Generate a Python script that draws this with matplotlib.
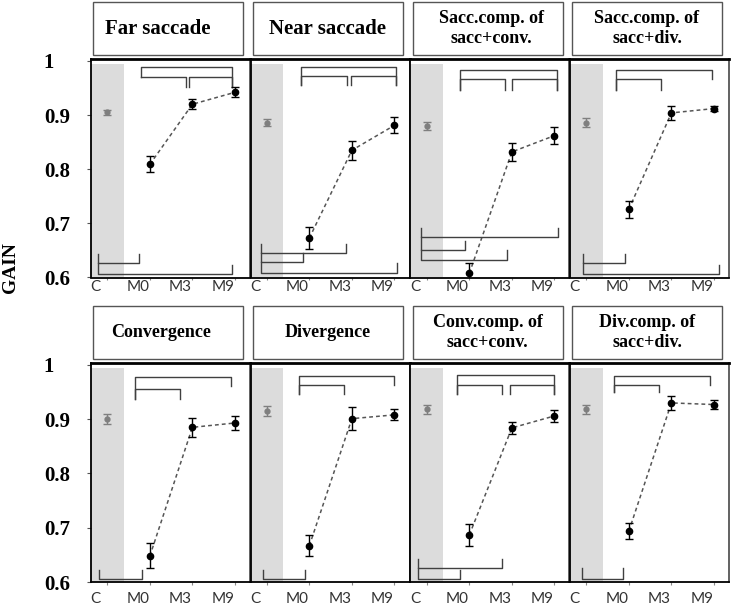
import matplotlib.pyplot as plt
from matplotlib.patches import Rectangle

titles = ["Far saccade", "Near saccade", "Sacc.comp. of\nsacc+conv.", "Sacc.comp. of\nsacc+div.",
          "Convergence", "Divergence", "Conv.comp. of\nsacc+conv.", "Div.comp. of\nsacc+div."]
title_sizes = [15, 15, 13, 13, 13, 13, 13, 13]
groups = ["C", "M0", "M3", "M9"]

# mean gain per group (C, M0, M3, M9) for each panel
gain = [
    [0.905, 0.809, 0.920, 0.942],
    [0.886, 0.673, 0.835, 0.881],
    [0.880, 0.608, 0.832, 0.862],
    [0.886, 0.726, 0.904, 0.912],
    [0.901, 0.648, 0.885, 0.893],
    [0.915, 0.667, 0.901, 0.908],
    [0.918, 0.687, 0.884, 0.906],
    [0.918, 0.694, 0.930, 0.927],
]
sem = [
    [0.004, 0.015, 0.009, 0.009],
    [0.007, 0.021, 0.018, 0.015],
    [0.008, 0.018, 0.016, 0.016],
    [0.008, 0.016, 0.013, 0.004],
    [0.009, 0.023, 0.018, 0.012],
    [0.010, 0.019, 0.021, 0.010],
    [0.009, 0.020, 0.011, 0.011],
    [0.008, 0.015, 0.013, 0.008],
]

# significance brackets: (x_left, x_right, y_bar, y_left_end, y_right_end)
brackets = [
    [(0.78, 2.93, 0.989, 0.970, 0.952), (0.78, 1.84, 0.970, 0.970, 0.952), (1.91, 2.93, 0.970, 0.952, 0.952),
     (-0.21, 0.74, 0.626, 0.643, 0.643), (-0.21, 2.93, 0.606, 0.626, 0.623)],
    [(0.81, 3.03, 0.989, 0.955, 0.955), (0.81, 1.88, 0.972, 0.955, 0.955), (1.98, 3.03, 0.972, 0.955, 0.955),
     (-0.13, 1.85, 0.645, 0.662, 0.662), (-0.13, 0.85, 0.628, 0.645, 0.645), (-0.13, 3.05, 0.609, 0.628, 0.626)],
    [(0.79, 3.06, 0.984, 0.947, 0.947), (0.79, 1.83, 0.966, 0.947, 0.947), (2.00, 3.06, 0.966, 0.947, 0.947),
     (-0.13, 3.08, 0.674, 0.691, 0.691), (-0.13, 0.90, 0.651, 0.674, 0.668), (-0.13, 1.89, 0.632, 0.651, 0.651)],
    [(0.69, 2.96, 0.983, 0.947, 0.966), (0.69, 1.75, 0.966, 0.947, 0.947),
     (-0.08, 0.90, 0.626, 0.643, 0.643), (-0.08, 3.12, 0.606, 0.626, 0.624)],
    [(0.65, 2.91, 0.978, 0.938, 0.961), (0.65, 1.72, 0.956, 0.938, 0.938),
     (-0.19, 0.82, 0.605, 0.623, 0.623)],
    [(0.76, 3.00, 0.979, 0.946, 0.963), (0.76, 1.81, 0.963, 0.946, 0.946),
     (-0.09, 0.90, 0.605, 0.623, 0.623)],
    [(0.72, 3.00, 0.981, 0.946, 0.946), (0.72, 1.76, 0.963, 0.946, 0.946), (1.95, 3.00, 0.963, 0.946, 0.946),
     (-0.22, 1.76, 0.625, 0.642, 0.642), (-0.22, 0.77, 0.605, 0.625, 0.623)],
    [(0.65, 2.91, 0.979, 0.950, 0.963), (0.65, 1.70, 0.963, 0.950, 0.950),
     (-0.11, 0.86, 0.605, 0.625, 0.625)],
]

yticks = [0.6, 0.7, 0.8, 0.9, 1.0]
ytick_labels = ["0.6", "0.7", "0.8", "0.9", "1"]

W, H = 733, 606
fig = plt.figure(figsize=(W / 100, H / 100), dpi=100)
serif = "Liberation Serif"

col_left = [91, 250.5, 410.5, 570]
col_w = 159
row_top = [59.3, 363.3]
row_bot = [277.5, 582]
title_nudge = [-10, 0, 4, 0, -7, 0, 0, 0]  # px, the first titles sit a little left in their boxes

for i in range(8):
    r, c = divmod(i, 4)
    l, t, b = col_left[c], row_top[r], row_bot[r]
    ax = fig.add_axes([l / W, 1 - b / H, col_w / W, (b - t) / H])
    ax.set_xlim(-0.385, 3.355)
    ax.set_ylim(0.6, 1.003)

    ax.fill_between([-0.4, 0.38], 0.6, 0.994, color="#dcdcdc", lw=0, zorder=0)

    ax.errorbar([0], gain[i][:1], yerr=sem[i][:1], fmt="o", color="#7f7f7f",
                ms=3.5, capsize=3, elinewidth=1, capthick=1, zorder=3)
    ax.plot([1, 2, 3], gain[i][1:], ls=(0, (2.5, 2)), color="#555555", lw=1.1, zorder=2)
    ax.errorbar([1, 2, 3], gain[i][1:], yerr=sem[i][1:], fmt="o", color="black",
                ms=4.5, capsize=3, elinewidth=1, capthick=1, zorder=3)

    for x1, x2, yb, y1, y2 in brackets[i]:
        ax.plot([x1, x1, x2, x2], [y1, yb, yb, y2], color="#404040", lw=1, zorder=2)

    for s in ax.spines.values():
        s.set_color("black")
        s.set_linewidth(1.3)
    ax.spines["top"].set_linewidth(2)
    ax.spines["right"].set_color("#555555")

    # tick marks under the points, labels shifted a bit to the left
    ax.set_xticks([0, 1, 2, 3])
    ax.set_xticklabels([])
    ax.set_xticks([k - 0.28 for k in range(4)], minor=True)
    ax.set_xticklabels(groups, minor=True, fontfamily="Lato", fontsize=11, color="#333333")
    ax.tick_params(axis="x", which="major", length=1.5 if r == 0 else 2.5, width=0.8, color="#888888")
    ax.tick_params(axis="x", which="minor", length=0, pad=2 if r == 0 else 7)

    if c == 0:
        ax.set_yticks(yticks)
        ax.set_yticklabels(ytick_labels, fontfamily=serif, fontweight="bold", fontsize=15, ha="left")
        ax.tick_params(axis="y", length=3, width=0.8, color="#555555", pad=31)
    else:
        ax.set_yticks([])

    # title box above the panel
    bx0, bx1 = l + 2, l + 152
    by0, by1 = t - 57, t - 4.5
    fig.add_artist(Rectangle((bx0 / W, 1 - by1 / H), (bx1 - bx0) / W, (by1 - by0) / H,
                             transform=fig.transFigure, fill=False, ec="#555555", lw=1))
    fig.text(((bx0 + bx1) / 2 + title_nudge[i]) / W, 1 - (by0 + by1) / 2 / H, titles[i],
             ha="center", va="center", fontfamily=serif, fontweight="bold",
             fontsize=title_sizes[i], linespacing=1.25)

fig.text(11 / W, 1 - 268 / H, "GAIN", rotation=90, ha="center", va="center",
         fontfamily=serif, fontweight="bold", fontsize=14)

fig.savefig("out.png", dpi=100)
